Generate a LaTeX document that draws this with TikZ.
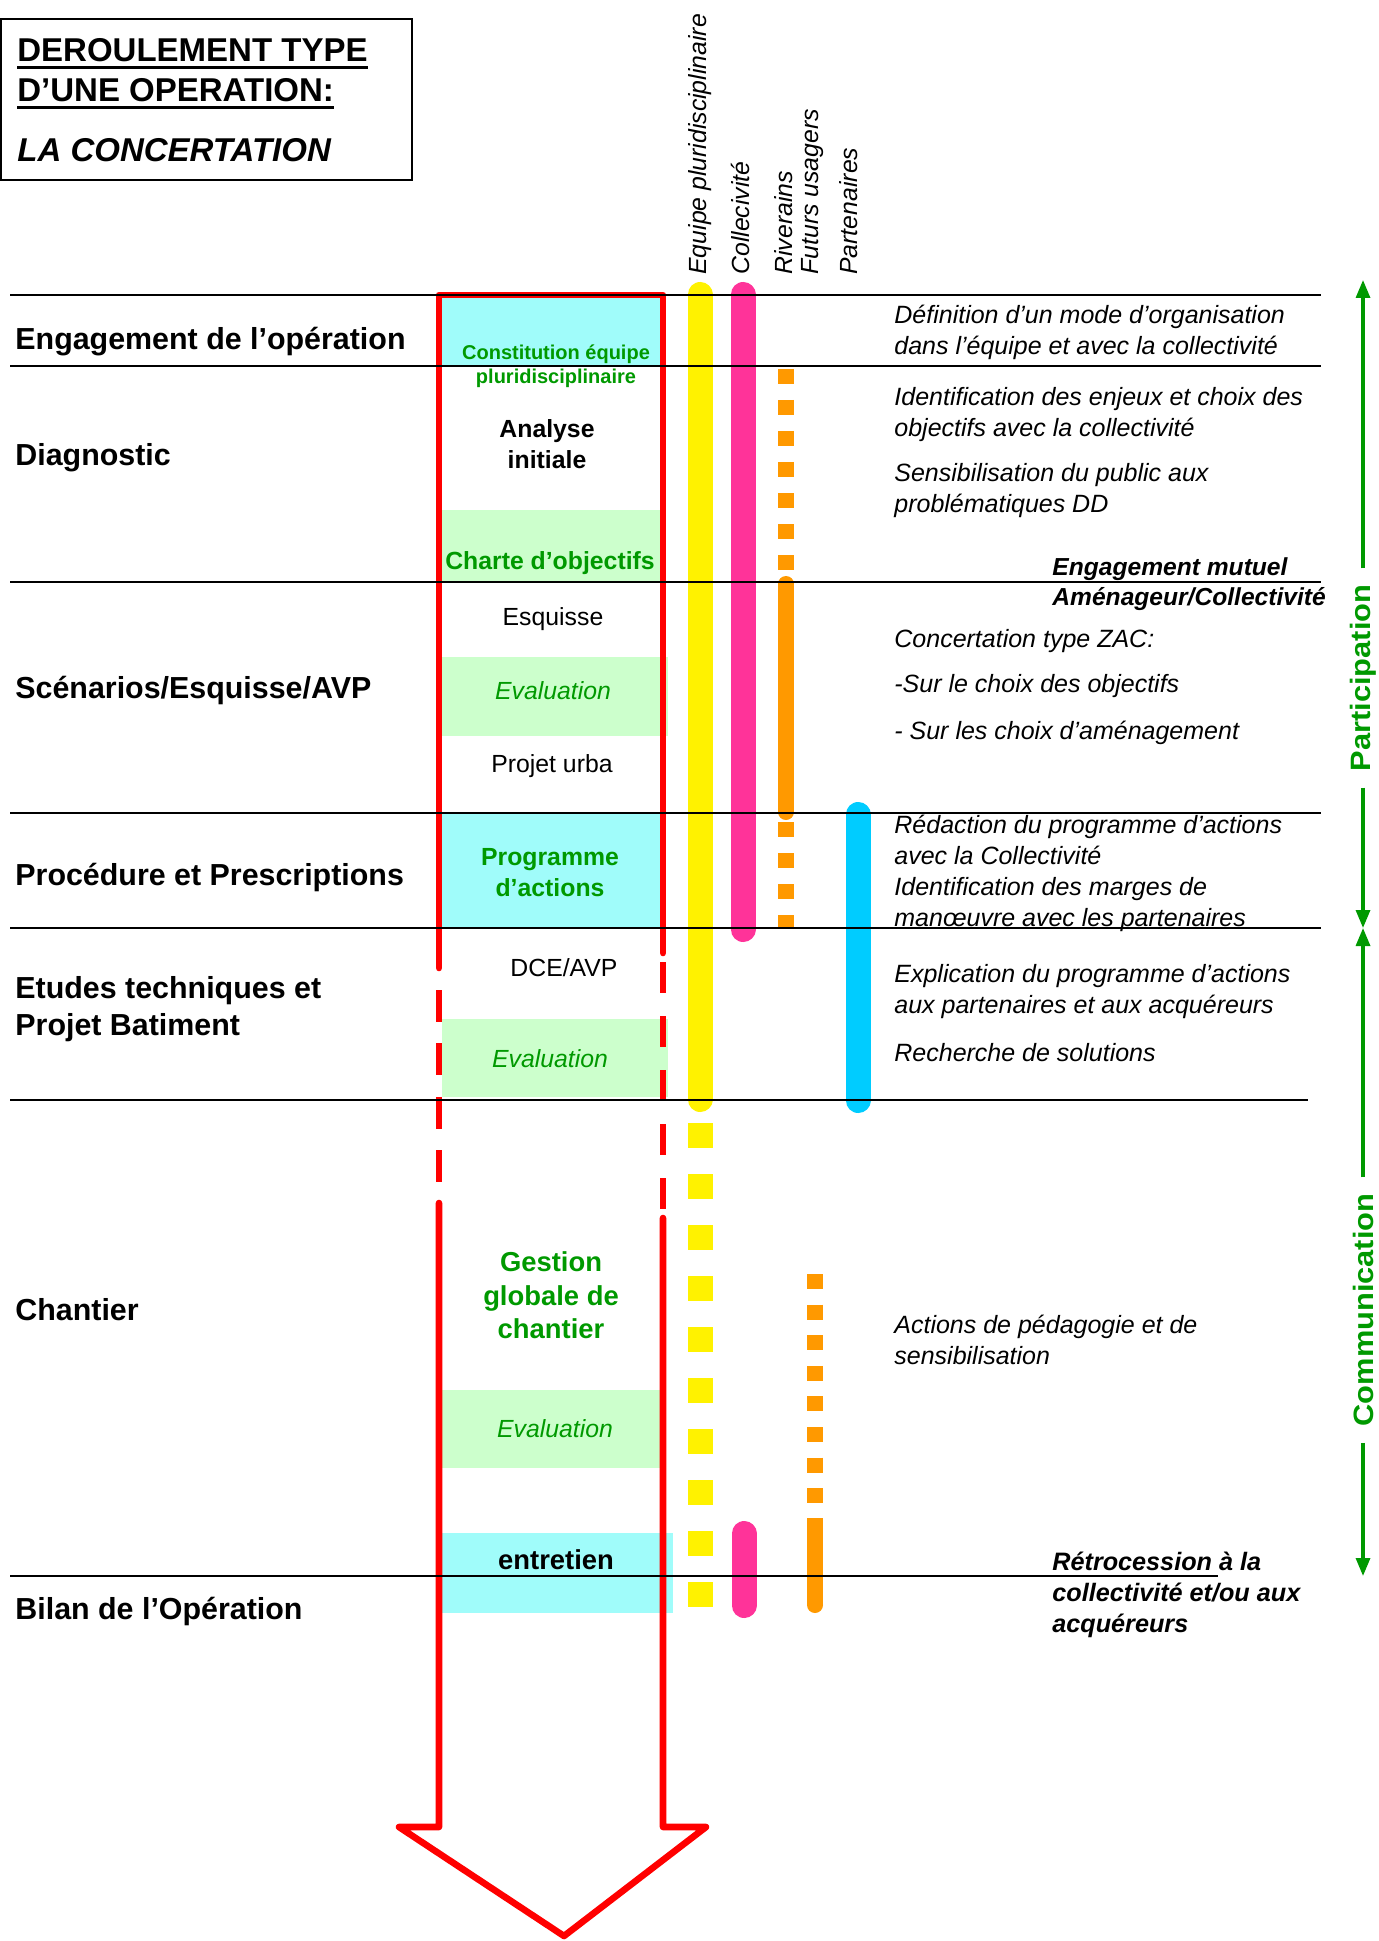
\documentclass[tikz,border=0pt]{standalone}
\usepackage{fontspec}
\setmainfont{Liberation Sans}
\newfontfamily\bandfont[FakeStretch=1.1]{Liberation Sans}
\usetikzlibrary{arrows.meta}
\definecolor{fillcyan}{RGB}{160,252,250}
\definecolor{fillgreen}{RGB}{204,255,204}
\definecolor{txtgreen}{RGB}{0,153,0}
\definecolor{barpink}{RGB}{255,51,153}
\definecolor{barorange}{RGB}{255,153,0}
\definecolor{barblue}{RGB}{0,204,255}

\begin{document}
\begin{tikzpicture}[x=0.5pt, y=-0.5pt,
        >={Triangle[width=7pt,length=9pt]},
        phase/.style={anchor=west, inner sep=0pt, align=left, yshift=-1.75pt,
            font=\fontsize{15.2}{18.5}\selectfont\bfseries},
        heading/.style={anchor=west, inner sep=0pt,
            font=\fontsize{16.5}{19.5}\selectfont\bfseries},
        stage/.style={inner sep=0pt, align=center, yshift=-1.75pt,
            font=\fontsize{12.4}{15.5}\selectfont},
        stagebf/.style={inner sep=0pt, align=center, yshift=-1.75pt,
            font=\fontsize{12.4}{15.5}\selectfont\bfseries},
        keystage/.style={stagebf, text=txtgreen},
        evalt/.style={inner sep=0pt, text=txtgreen, yshift=-1.75pt,
            font=\fontsize{12.4}{15.5}\selectfont\itshape},
        who/.style={rotate=90, anchor=west, inner sep=0pt,
            font=\fontsize{12.4}{15}\selectfont\itshape},
        note/.style={anchor=west, inner sep=0pt, align=left, yshift=-1.75pt,
            font=\fontsize{12.5}{15.5}\selectfont\itshape},
        keynote/.style={note, font=\fontsize{12.3}{15.2}\selectfont\bfseries\itshape},
        band/.style={rotate=90, inner xsep=8pt, inner ysep=2pt, text=txtgreen,
            font=\fontsize{14}{16}\bandfont\bfseries},
        rule/.style={line width=1pt},
        redline/.style={line width=3.3pt, red},
        bar/.style={line width=12.5pt, line cap=round},
        thinbar/.style={line width=8pt, barorange},
        garrow/.style={->, line width=1.6pt, txtgreen}]
        \useasboundingbox (0,0) rectangle (1379,1941);

        \draw[line width=0.8pt] (1,19) rectangle (412,180);
        \node[heading] (titleA) at (17,50) {DEROULEMENT TYPE};
        \node[heading] (titleB) at (17,90) {D’UNE OPERATION:};
        \node[heading, font=\fontsize{16.5}{19.5}\selectfont\bfseries\itshape] (titleC) at (17,150) {LA CONCERTATION};
        \draw[line width=1.5pt] ([yshift=-3pt]titleA.base west) -- ([yshift=-3pt]titleA.base east);
        \draw[line width=1.5pt] ([yshift=-3pt]titleB.base west) -- ([yshift=-3pt]titleB.base east);

        \fill[fillcyan] (442,297) rectangle (660,366);
        \fill[fillgreen] (442,510) rectangle (660,582);
        \fill[fillgreen] (442,657) rectangle (668,736);
        \fill[fillcyan] (442,813) rectangle (660,928);
        \fill[fillgreen] (442,1019) rectangle (668,1097);
        \fill[fillgreen] (442,1390) rectangle (660,1468);
        \fill[fillcyan] (442,1533) rectangle (673,1613);

        \draw[bar, yellow] (700,294.5) -- (700,1099.5);
        \draw[bar, yellow, line cap=butt, dash pattern=on 12.5pt off 13pt] (700,1123) -- (700,1607);
        \draw[bar, barpink] (743,294.5) -- (743,929.5);
        \draw[bar, barpink] (744,1533.5) -- (744,1605.5);
        \draw[thinbar, dash pattern=on 7.5pt off 8pt] (786,369) -- (786,570);
        \draw[thinbar, line cap=round] (786,584) -- (786,812);
        \draw[thinbar, dash pattern=on 7.5pt off 8pt] (786,822) -- (786,928);
        \draw[thinbar, dash pattern=on 7.5pt off 7.8pt] (815,1274) -- (815,1504);
        \draw[thinbar] (815,1518) -- (815,1605);
        \fill[barorange] (815,1605) circle[radius=4pt];
        \draw[bar, barblue] (858,814.5) -- (858,1100.5);

        \draw[redline, line cap=round, line join=round] (439,968) -- (439,295) -- (663,295) -- (663,953);
        \draw[redline, dash pattern=on 16pt off 10.7pt] (439,990) -- (439,1182);
        \draw[redline, dash pattern=on 15.5pt off 11.5pt] (663,962) -- (663,1209);
        \draw[redline, line cap=round, line join=round] (663,1218) -- (663,1827) -- (706,1827)
            -- (564,1936) -- (399,1827) -- (439,1827) -- (439,1203);

        \draw[rule] (10,295) -- (1321,295);
        \draw[rule] (10,366) -- (1321,366);
        \draw[rule] (10,582) -- (1321,582);
        \draw[rule] (10,813) -- (1321,813);
        \draw[rule] (10,928) -- (1321,928);
        \draw[rule] (10,1100) -- (1308,1100);
        \draw[rule] (10,1576) -- (1218,1576);

        \node[phase] (engage) at (15,338) {Engagement de l’opération};
        \node[phase] (diag) at (15,454) {Diagnostic};
        \node[phase] (scen) at (15,687) {Scénarios/Esquisse/AVP};
        \node[phase] (proc) at (15,874) {Procédure et Prescriptions};
        \node[phase] (etudes) at (15,1005.5) {Etudes techniques et\\Projet Batiment};
        \node[phase] (chantier) at (15,1306) {Chantier};
        \node[phase] (bilan) at (15,1608) {Bilan de l’Opération};

        \node[keystage, font=\fontsize{10}{12}\selectfont\bfseries] (constit) at (556,362.5) {Constitution équipe\\pluridisciplinaire};
        \node[stagebf] (analyse) at (547,441) {Analyse\\initiale};
        \node[keystage] (charte) at (550,560) {Charte d’objectifs};
        \node[stage] (esquisse) at (553,616) {Esquisse};
        \node[evalt] (evalA) at (553,687) {Evaluation};
        \node[stage] (urba) at (552,763) {Projet urba};
        \node[keystage] (prog) at (550,869.5) {Programme\\d’actions};
        \node[stage] (dce) at (564,964) {DCE/AVP};
        \node[evalt] (evalB) at (550,1055) {Evaluation};
        \node[keystage, font=\fontsize{13.7}{16.7}\selectfont\bfseries] (gestion) at (551,1292) {Gestion\\globale de\\chantier};
        \node[evalt] (evalC) at (555,1425) {Evaluation};
        \node[stagebf, yshift=1.75pt, font=\fontsize{13.7}{16.7}\selectfont\bfseries] (entretien) at (556,1560) {entretien};

        \node[who] (equipe) at (700,275) {Equipe pluridisciplinaire};
        \node[who] (collec) at (740,275) {Collecivité};
        \node[who] (riv) at (784,275) {Riverains};
        \node[who] (futurs) at (813,275) {Futurs usagers};
        \node[who] (parten) at (849,275) {Partenaires};

        \node[note] (defin) at (894,328.5) {Définition d’un mode d’organisation\\dans l’équipe et avec la collectivité};
        \node[note] (enjeux) at (894,411) {Identification des enjeux et choix des\\objectifs avec la collectivité};
        \node[note] (sensib) at (894,487.5) {Sensibilisation du public aux\\problématiques DD};
        \node[keynote] (mutuel) at (1052,580.5) {Engagement mutuel\\Aménageur/Collectivité};
        \node[note] (zac) at (894,638) {Concertation type ZAC:};
        \node[note] (surobj) at (894,683) {-Sur le choix des objectifs};
        \node[note] (suramen) at (894,729) {- Sur les choix d’aménagement};
        \node[note] (redac) at (894,870) {Rédaction du programme d’actions\\avec la Collectivité\\Identification des marges de\\manœuvre avec les partenaires};
        \node[note] (explic) at (894,988.5) {Explication du programme d’actions\\aux partenaires et aux acquéreurs};
        \node[note] (recher) at (894,1049) {Recherche de solutions};
        \node[note] (pedago) at (894,1336) {Actions de pédagogie et de\\sensibilisation};
        \node[keynote, font=\fontsize{12.6}{15.5}\selectfont\bfseries\itshape] (retro) at (1052,1591) {Rétrocession à la\\collectivité et/ou aux\\acquéreurs};

        \coordinate (ptop) at (1363,280);
        \coordinate (pmid) at (1363,928);
        \coordinate (cbot) at (1363,1576);
        \node[band] (partic) at (1363,678) {Participation};
        \node[band] (commu) at (1363,1310) {Communication};
        \draw[garrow] (partic) -- (ptop);
        \draw[garrow] (partic) -- (pmid);
        \draw[garrow] (commu) -- (pmid);
        \draw[garrow] (commu) -- (cbot);
    \end{tikzpicture}
\end{document}
